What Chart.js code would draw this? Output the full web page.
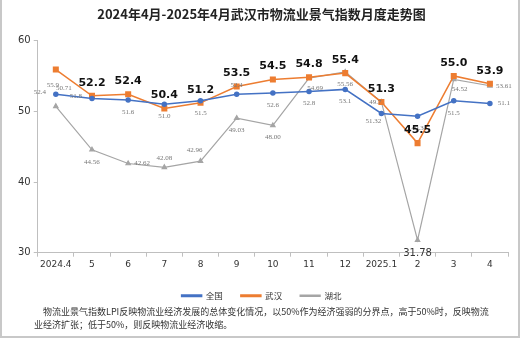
<!DOCTYPE html>
<html>
<head>
<meta charset="utf-8">
<script src="https://cdn.jsdelivr.net/npm/chart.js@4.4.1/dist/chart.umd.min.js"></script>
<style>
  html, body { margin: 0; padding: 0; background: #fff; }
  #wrap {
    position: relative; width: 520px; height: 338px; box-sizing: border-box;
    border: 2px solid #c8c8c8; border-top: none; overflow: hidden;
  }
  #chart { position: absolute; left: 0; top: 0; }
  #note {
    position: absolute; left: 32px; top: 305px; width: 470px;
    font: 9px/13px 'Noto Sans CJK SC', serif; color: #333; white-space: nowrap;
  }
</style>
</head>
<body>
<div id="wrap">
  <canvas id="chart" width="516" height="336"></canvas>
  <div id="note">&emsp;物流业景气指数LPI反映物流业经济发展的总体变化情况，以50%作为经济强弱的分界点，高于50%时，反映物流<br>业经济扩张；低于50%，则反映物流业经济收缩。</div>
</div>
<script>
// categories
const months = ['2024.4', '5', '6', '7', '8', '9', '10', '11', '12', '2025.1', '2', '3', '4'];

// series values
const national = [52.4, 51.8, 51.6, 51.0, 51.5, 52.4, 52.6, 52.8, 53.1, 49.7, 49.3, 51.5, 51.1];
const wuhan    = [55.9, 52.2, 52.4, 50.4, 51.2, 53.5, 54.5, 54.8, 55.4, 51.3, 45.5, 55.0, 53.9];
const hubei    = [50.71, 44.56, 42.62, 42.08, 42.96, 49.03, 48.00, 54.69, 55.56, 51.32, 31.78, 54.52, 53.61];

// y axis ticks
const yTicks = [30, 40, 50, 60];

// where each value label sits relative to its point
const nationalPos = ['left', 'left', 'below', 'below', 'below', 'above', 'below', 'below', 'below', 'aboveLeft', 'below', 'below', 'right'];
const wuhanPos    = ['small', 'above', 'above', 'above', 'above', 'above', 'above', 'above', 'above', 'above', 'above', 'above', 'above'];
const hubeiPos    = ['aboveRight', 'below', 'right', 'above', 'aboveLeft', 'below', 'below', 'belowRight', 'below', 'belowLeft', 'bigBelow', 'belowRight', 'right'];

const BLUE = '#4472C4';
const ORANGE = '#ED7D31';
const GRAY = '#A5A5A5';

const valueLabels = {
  id: 'valueLabels',
  afterDatasetsDraw(chart) {
    const ctx = chart.ctx;
    const sets = [
      { idx: 0, pos: nationalPos, vals: national, dec: 1 },
      { idx: 1, pos: wuhanPos, vals: wuhan, dec: 1 },
      { idx: 2, pos: hubeiPos, vals: hubei, dec: 2 }
    ];
    ctx.save();
    sets.forEach(s => {
      const meta = chart.getDatasetMeta(s.idx);
      meta.data.forEach((pt, i) => {
        const txt = s.vals[i].toFixed(s.dec);
        const p = s.pos[i];
        let dx = 0, dy = 0;
        if (s.idx === 1 && p !== 'small') {
          ctx.font = 'bold 11px "DejaVu Sans"';
          ctx.fillStyle = '#111';
        } else if (p === 'bigBelow') {
          ctx.font = '10px "DejaVu Sans"';
          ctx.fillStyle = '#333';
        } else {
          ctx.font = '7px "Liberation Serif"';
          ctx.fillStyle = '#777';
        }
        switch (p) {
          case 'above': dy = s.idx === 1 ? -13 : -9; break;
          case 'below': dy = 12; break;
          case 'bigBelow': dy = 13; break;
          case 'left': dx = -16; dy = -2; break;
          case 'right': dx = 14; dy = 0; break;
          case 'aboveLeft': dx = -6; dy = -11; break;
          case 'aboveRight': dx = 8; dy = -18; break;
          case 'belowLeft': dx = -8; dy = 19; break;
          case 'belowRight': dx = 6; dy = 10; break;
          case 'small': dx = -3; dy = 16; break;
        }
        ctx.textAlign = 'center';
        ctx.textBaseline = 'middle';
        ctx.fillText(txt, pt.x + dx, pt.y + dy);
      });
    });
    ctx.restore();
  }
};

new Chart(document.getElementById('chart'), {
  type: 'line',
  data: {
    labels: months,
    datasets: [
      {
        label: '全国', data: national, borderColor: BLUE, backgroundColor: BLUE,
        borderWidth: 1.5, pointStyle: 'circle', pointRadius: 2, tension: 0
      },
      {
        label: '武汉', data: wuhan, borderColor: ORANGE, backgroundColor: ORANGE,
        borderWidth: 1.5, pointStyle: 'rect', pointRadius: 3.2, tension: 0
      },
      {
        label: '湖北', data: hubei, borderColor: GRAY, backgroundColor: GRAY,
        borderWidth: 1.2, pointStyle: 'triangle', pointRadius: 2.5, tension: 0
      }
    ]
  },
  options: {
    responsive: false,
    animation: false,
    layout: { padding: { left: 13, right: 10, top: 0, bottom: 26 } },
    scales: {
      x: {
        offset: true,
        grid: { offset: true, drawOnChartArea: false, tickLength: 4, color: '#bfbfbf' },
        border: { color: '#bfbfbf' },
        ticks: { color: '#333', font: { family: 'DejaVu Sans', size: 9 }, padding: 3, maxRotation: 0, autoSkip: false }
      },
      y: {
        min: yTicks[0], max: yTicks[yTicks.length - 1],
        afterBuildTicks: axis => { axis.ticks = yTicks.map(v => ({ value: v })); },
        grid: { drawOnChartArea: false, tickLength: 4, color: '#bfbfbf' },
        border: { color: '#bfbfbf' },
        ticks: { color: '#333', font: { family: 'DejaVu Sans', size: 10 }, padding: 3 }
      }
    },
    plugins: {
      title: {
        display: true,
        text: '2024年4月-2025年4月武汉市物流业景气指数月度走势图',
        color: '#222',
        font: { family: 'Noto Sans CJK SC', size: 13, weight: 'bold' },
        padding: { top: 6, bottom: 19 }
      },
      legend: {
        position: 'bottom',
        labels: {
          color: '#333',
          font: { family: 'Noto Sans CJK SC', size: 8.5 },
          boxWidth: 20, boxHeight: 1.5, padding: 18
        }
      },
      tooltip: { enabled: false }
    }
  },
  plugins: [valueLabels]
});
</script>
</body>
</html>
